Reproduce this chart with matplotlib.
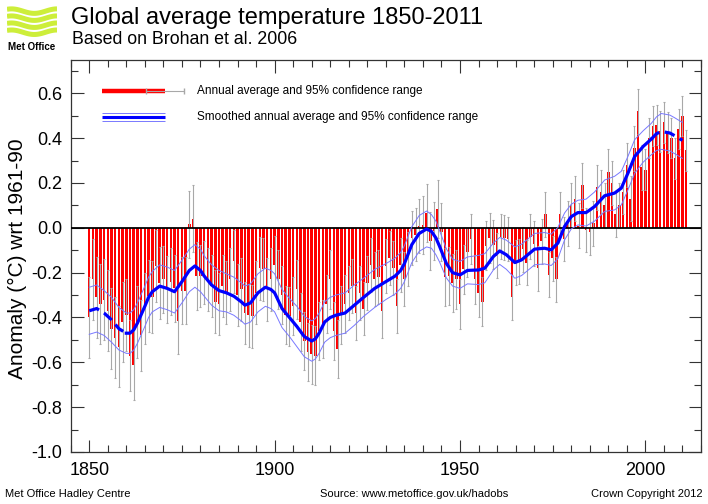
import numpy as np
import matplotlib.pyplot as plt
from matplotlib.ticker import MultipleLocator, FormatStrFormatter

# annual global anomalies 1850-2011
years = np.arange(1850, 2012)
anomaly = [
    -0.40, -0.23, -0.31, -0.34, -0.32, -0.37, -0.45, -0.49, -0.53, -0.42,   # 1850s
    -0.39, -0.57, -0.61, -0.42, -0.48, -0.36, -0.305, -0.31, -0.17, -0.245,  # 1860s
    -0.23, -0.275, -0.24, -0.27, -0.415, -0.28, -0.28, 0.015, 0.04, -0.215,  # 1870s
    -0.215, -0.20, -0.23, -0.26, -0.33, -0.34, -0.26, -0.29, -0.23, -0.15,   # 1880s
    -0.30, -0.275, -0.38, -0.39, -0.395, -0.29, -0.18, -0.185, -0.275, -0.23,  # 1890s
    -0.165, -0.23, -0.30, -0.39, -0.395, -0.35, -0.275, -0.42, -0.505, -0.555,  # 1900s
    -0.565, -0.57, -0.46, -0.45, -0.34, -0.23, -0.46, -0.54, -0.39, -0.34,   # 1910s
    -0.29, -0.26, -0.38, -0.29, -0.36, -0.245, -0.165, -0.23, -0.22, -0.37,  # 1920s
    -0.17, -0.135, -0.18, -0.35, -0.165, -0.23, -0.14, -0.045, -0.03, 0.008,  # 1930s
    0.012, 0.067, -0.06, -0.015, 0.085, -0.02, -0.22, -0.215, -0.245, -0.23,  # 1940s
    -0.34, -0.185, -0.11, -0.05, -0.23, -0.29, -0.33, -0.08, -0.045, -0.075,  # 1950s
    -0.125, -0.04, -0.045, -0.05, -0.31, -0.155, -0.15, -0.095, -0.155, -0.04,  # 1960s
    -0.07, -0.18, -0.06, 0.06, -0.21, -0.135, -0.23, 0.06, -0.05, 0.02,      # 1970s
    0.10, 0.13, 0.01, 0.19, -0.01, -0.02, 0.02, 0.18, 0.16, 0.10,           # 1980s
    0.25, 0.20, 0.06, 0.10, 0.16, 0.28, 0.13, 0.355, 0.52, 0.27,            # 1990s
    0.26, 0.40, 0.455, 0.46, 0.43, 0.47, 0.425, 0.40, 0.31, 0.44,           # 2000s
    0.50, 0.345,                                                           # 2010s
]
# 95% half range, one value per decade
err_decade = [0.18, 0.16, 0.15, 0.14, 0.14, 0.13, 0.13, 0.12, 0.12,
              0.13, 0.11, 0.10, 0.10, 0.10, 0.10, 0.09, 0.09]
err = np.repeat(err_decade, 10)[:len(years)]

# smoothed curve and its 95% half range
smooth_years = [1850, 1852, 1854, 1856, 1858, 1860, 1861, 1862, 1863, 1865, 1866, 1867,
                1869, 1871, 1873, 1875, 1877, 1878.5, 1880, 1881, 1883, 1885, 1887, 1889,
                1891, 1892, 1893.5, 1895.5, 1897.5, 1899, 1900, 1902, 1904, 1906, 1908,
                1910, 1911, 1912, 1913.5, 1915, 1916.5, 1919, 1921.5, 1924, 1927, 1930,
                1932.5, 1934, 1935, 1937, 1939, 1941, 1942.3, 1943.5, 1944.5, 1946.3,
                1948, 1950, 1952, 1955, 1956.7, 1959, 1960.7, 1962.5, 1964.8, 1966.6,
                1968.8, 1970.1, 1972.8, 1974.6, 1976.4, 1978.2, 1980, 1981.8, 1984,
                1986.3, 1989, 1991.7, 1993.5, 1995.3, 1997.1, 1999.4, 2001.6, 2003,
                2004.3, 2006.6, 2008, 2010]
smooth_vals = [-0.37, -0.36, -0.38, -0.41, -0.45, -0.47, -0.47, -0.455, -0.425, -0.35, -0.31,
               -0.285, -0.26, -0.27, -0.285, -0.24, -0.19, -0.17, -0.19, -0.215, -0.255,
               -0.28, -0.29, -0.305, -0.33, -0.345, -0.335, -0.29, -0.265, -0.275, -0.29,
               -0.36, -0.40, -0.44, -0.485, -0.505, -0.495, -0.47, -0.42, -0.40, -0.39,
               -0.38, -0.345, -0.31, -0.27, -0.24, -0.215, -0.19, -0.16, -0.075, -0.025,
               -0.005, -0.016, -0.045, -0.083, -0.158, -0.20, -0.21, -0.19, -0.188, -0.18,
               -0.128, -0.103, -0.12, -0.155, -0.143, -0.113, -0.095, -0.091, -0.098,
               -0.068, 0.006, 0.05, 0.068, 0.068, 0.095, 0.143, 0.155, 0.177, 0.244,
               0.318, 0.363, 0.396, 0.42, 0.43, 0.423, 0.41, 0.39]
smooth_err = [0.105, 0.105, 0.10, 0.10, 0.095, 0.09, 0.09, 0.09, 0.09, 0.09, 0.09, 0.09,
              0.095, 0.095, 0.095, 0.095, 0.095, 0.095, 0.095, 0.09, 0.09, 0.09, 0.085,
              0.085, 0.085, 0.085, 0.085, 0.085, 0.085, 0.085, 0.085, 0.085, 0.085, 0.09,
              0.09, 0.09, 0.09, 0.09, 0.09, 0.09, 0.09, 0.09, 0.09, 0.085, 0.085, 0.08,
              0.08, 0.08, 0.08, 0.08, 0.08, 0.08, 0.075, 0.075, 0.07, 0.065, 0.06, 0.06,
              0.06, 0.065, 0.065, 0.06, 0.06, 0.065, 0.07, 0.07, 0.07, 0.07, 0.07, 0.07,
              0.07, 0.06, 0.055, 0.055, 0.06, 0.065, 0.07, 0.075, 0.075, 0.075, 0.075,
              0.07, 0.07, 0.075, 0.08, 0.08, 0.08, 0.08]

plt.rcParams['font.family'] = ['Liberation Sans', 'DejaVu Sans']
plt.rcParams['axes.unicode_minus'] = False

W, H = 708, 504
fig = plt.figure(figsize=(W / 100, H / 100), dpi=100)


def fx(px):
    return px / W


def fy(py):
    return 1 - py / H


ax = fig.add_axes([fx(70.7), fy(452), (701 - 70.7) / W, (452 - 59.7) / H])

ax.bar(years, anomaly, width=0.68, color='#ff0000', zorder=2)
ax.errorbar(years, anomaly, yerr=err, fmt='none', ecolor='#a8a8a8',
            elinewidth=0.8, capsize=1, capthick=0.8, zorder=3)
ax.axhline(0, color='black', lw=1.3, zorder=4)

sy = np.array(smooth_years)
sv = np.array(smooth_vals)
se = np.array(smooth_err)
ax.plot(sy, sv + se, color='#7878ff', lw=0.7, zorder=5)
ax.plot(sy, sv - se, color='#7878ff', lw=0.7, zorder=5)
solid = (sy >= 1860) & (sy <= 2001.6)
head = sy <= 1860
tail = sy >= 2001.6
ax.plot(sy[solid], sv[solid], color='#0000ff', lw=2.3, zorder=6)
for part in (head, tail):
    ax.plot(sy[part], sv[part], color='#0000ff', lw=2.3, ls=(0, (3.3, 1.8)), zorder=6)

ax.set_xlim(1845, 2015)
ax.set_ylim(-1.0, 0.75)
ax.xaxis.set_major_locator(MultipleLocator(50))
ax.xaxis.set_minor_locator(MultipleLocator(5))
ax.yaxis.set_major_locator(MultipleLocator(0.2))
ax.yaxis.set_minor_locator(MultipleLocator(0.1))
ax.yaxis.set_major_formatter(FormatStrFormatter('%.1f'))
ax.tick_params(which='both', direction='in', top=True, right=True, width=0.8,
               color='#333333', labelsize=13)
ax.tick_params(which='major', length=9)
ax.tick_params(which='minor', length=5)
ax.tick_params(axis='y', pad=6)
ax.tick_params(axis='x', pad=7)
for s in ax.spines.values():
    s.set_color('#333333')
    s.set_linewidth(0.9)

# legend drawn by hand
T = ax.transAxes
ax.plot([0.0497, 0.1497], [0.919, 0.919], color='#ff0000', lw=3.2, transform=T,
        solid_capstyle='butt', zorder=7)
ax.errorbar([0.1497], [0.919], xerr=[0.03], fmt='none', ecolor='#a8a8a8', elinewidth=0.8,
            capsize=2.5, transform=T, zorder=8)
ax.text(0.2004, 0.919, 'Annual average and 95% confidence range', transform=T,
        fontsize=8.5, va='center', ha='left')
for dy, lw, c in [(0.0, 2.2, '#0000ff'), (0.009, 0.7, '#7878ff'), (-0.009, 0.7, '#7878ff')]:
    ax.plot([0.0497, 0.1497], [0.854 + dy, 0.854 + dy], color=c, lw=lw, transform=T,
            solid_capstyle='butt', zorder=7)
ax.text(0.2004, 0.854, 'Smoothed annual average and 95% confidence range', transform=T,
        fontsize=8.5, va='center', ha='left')

fig.text(fx(17), fy(259), 'Anomaly (\u00b0C) wrt 1961-90', rotation=90, fontsize=15,
         ha='center', va='center')

# titles
fig.text(fx(71), fy(7), 'Global average temperature 1850-2011', fontsize=17,
         ha='left', va='top')
fig.text(fx(72), fy(31), 'Based on Brohan et al. 2006', fontsize=12.8, ha='left', va='top')

# footer
fig.text(fx(5), fy(494), 'Met Office Hadley Centre', fontsize=8, va='center', ha='left')
fig.text(fx(320), fy(494), 'Source: www.metoffice.gov.uk/hadobs', fontsize=8,
         va='center', ha='left')
fig.text(fx(703), fy(494), 'Crown Copyright 2012', fontsize=8, va='center', ha='right')

# Met Office logo
lax = fig.add_axes([fx(7), fy(38), 50 / W, 32 / H])
lx = np.linspace(0, 1, 60)
for k in range(4):
    lax.plot(lx, 0.18 + k * 0.22 + 0.07 * np.sin(2 * np.pi * (lx * 1.1 + 0.15)),
             color='#cdee3a', lw=3.6, solid_capstyle='butt')
lax.set_xlim(0, 1)
lax.set_ylim(0, 1)
lax.axis('off')
fig.text(fx(32), fy(47), 'Met Office', fontsize=7, fontweight='bold', ha='center',
         va='center')

fig.savefig('out.png', dpi=100)
